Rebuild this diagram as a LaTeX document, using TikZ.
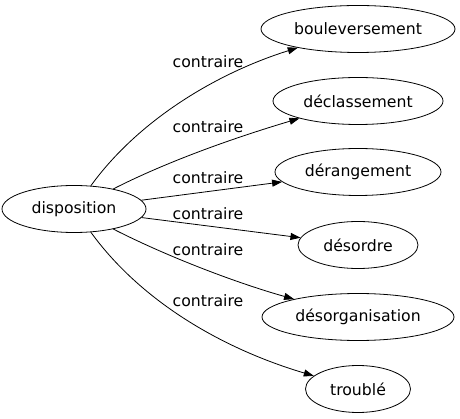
\documentclass[tikz,border=0pt]{standalone}
\usepackage{fontspec}
\setmainfont{DejaVu Sans}
\usetikzlibrary{shapes.geometric,arrows.meta}
\begin{document}
\begin{tikzpicture}[x=1pt,y=-1pt,
  term/.style={ellipse,draw,line width=0.8pt,minimum height=47pt,inner sep=0pt,font=\fontsize{15.7}{18}\selectfont},
  lbl/.style={font=\fontsize{15.7}{18}\selectfont,inner sep=0pt},
  rel/.style={line width=0.8pt,-{Triangle[length=10pt,width=7pt]}}]
\useasboundingbox (0,0) rectangle (460,419);
\node[term,minimum width=144pt] (disp) at (74,209) {disposition};
\node[term,minimum width=194pt] (bou) at (358,29) {bouleversement};
\node[term,minimum width=170pt] (dec) at (358,101) {déclassement};
\node[term,minimum width=166pt] (der) at (358,172) {dérangement};
\node[term,minimum width=120pt] (dso) at (358,245) {désordre};
\node[term,minimum width=192pt] (dsg) at (358,317) {désorganisation};
\node[term,minimum width=105pt] (tro) at (358,389) {troublé};
\node[lbl] (l1) at (208,62) {contraire};
\node[lbl] (l2) at (208,127) {contraire};
\node[lbl] (l3) at (208,178) {contraire};
\node[lbl] (l4) at (208,214) {contraire};
\node[lbl] (l5) at (208,250) {contraire};
\node[lbl] (l6) at (208,301) {contraire};
\draw[rel] (disp) .. controls (140,118) and (220,72) .. (bou);
\draw[rel] (disp) .. controls (170,160) and (240,136) .. (dec);
\draw[rel] (disp) -- (der);
\draw[rel] (disp) -- (dso);
\draw[rel] (disp) .. controls (170,258) and (240,284) .. (dsg);
\draw[rel] (disp) .. controls (140,300) and (220,348) .. (tro);
\end{tikzpicture}
\end{document}
